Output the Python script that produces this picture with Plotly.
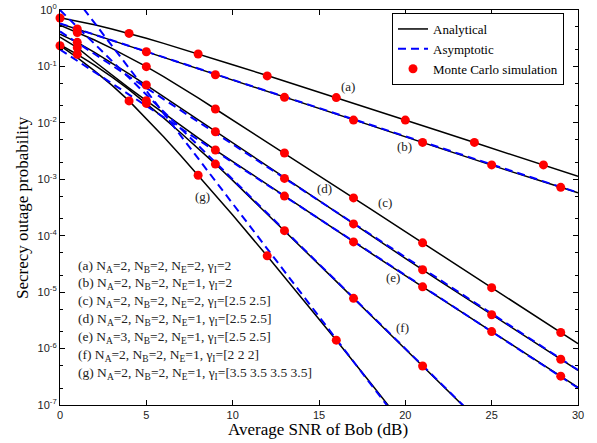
import numpy as np
import plotly.graph_objects as go

# ---------------- data ----------------
snr = [0, 1, 2, 3, 4, 5, 6, 7, 8, 9, 10, 12, 14, 16, 18, 20, 22, 24, 26, 28, 30]

ana_a = [0.731, 0.637, 0.547, 0.462, 0.385, 0.316, 0.256, 0.207, 0.166, 0.134, 0.107,
         0.0689, 0.0440, 0.0280, 0.0177, 0.01125, 0.0071, 4.48e-3, 2.82e-3, 1.78e-3, 1.125e-3]
ana_b = [0.569, 0.460, 0.366, 0.290, 0.230, 0.182, 0.144, 0.114, 0.0902, 0.0713, 0.0566,
         0.0356, 0.0224, 0.0141, 8.91e-3, 5.65e-3, 3.57e-3, 2.24e-3, 1.41e-3, 9.02e-4, 5.75e-4]
ana_c = [0.536, 0.402, 0.294, 0.209, 0.145, 0.0989, 0.0658, 0.0430, 0.0276, 0.0176, 0.0112,
         4.57e-3, 1.845e-3, 7.40e-4, 2.96e-4, 1.183e-4, 4.73e-5, 1.897e-5, 7.60e-6, 3.05e-6, 1.219e-6]
ana_d = [0.372, 0.267, 0.1775, 0.1156, 0.0741, 0.0468, 0.0292, 0.0182, 0.01127, 0.00697, 0.00433,
         1.667e-3, 6.52e-4, 2.58e-4, 1.014e-4, 3.97e-5, 1.574e-5, 6.30e-6, 2.52e-6, 1.016e-6, 4.09e-7]
ana_e = [0.331, 0.215, 0.1222, 0.0706, 0.0414, 0.0247, 0.01479, 0.00893, 0.00541, 0.0033, 0.00206,
         8.05e-4, 3.155e-4, 1.239e-4, 4.91e-5, 1.963e-5, 7.85e-6, 3.15e-6, 1.265e-6, 5.09e-7, 2.05e-7]
ana_f = [0.242, 0.164, 0.1057, 0.0655, 0.0389, 0.0221, 0.01222, 0.00662, 0.00354, 0.00186, 9.55e-4,
         2.45e-4, 6.17e-5, 1.55e-5, 3.89e-6, 9.77e-7, 2.45e-7, 6.17e-8, None, None, None]
ana_g = [0.233, 0.1436, 0.0836, 0.0466, 0.0245, 0.0120, 0.00569, 0.00262, 0.001175, 5.25e-4, 2.32e-4,
         4.37e-5, 7.94e-6, 1.41e-6, 2.43e-7, 4.07e-8, None, None, None, None, None]

# asymptotic (straight lines on this plot): end points
asym_b_x, asym_b = [0, 30], [0.58, 5.8e-4]
asym_d_x, asym_d = [0, 30], [0.417, 4.17e-7]
asym_e_x, asym_e = [0, 30], [0.1995, 2.0e-7]
asym_f_x, asym_f = [0, 24], [1.0, 6.3e-8]
asym_g_x, asym_g = [0, 20], [3.72, 3.7e-8]

# Monte Carlo simulation points
mc_a_x = [0, 4, 8, 12, 16, 20, 24, 28]
mc_a = [0.72, 0.385, 0.166, 0.068, 0.028, 0.0112, 0.0045, 0.0018]
mc_b_x = [1, 5, 9, 13, 17, 21, 25, 29]
mc_b = [0.46, 0.182, 0.0713, 0.0283, 0.0112, 0.0045, 0.0018, 7.2e-4]
mc_c_x = [1, 5, 9, 13, 17, 21, 25, 29]
mc_c = [0.40, 0.099, 0.0176, 2.92e-3, 4.68e-4, 7.48e-5, 1.2e-5, 1.93e-6]
mc_d_x = [1, 5, 9, 13, 17, 21, 25, 29]
mc_d = [0.267, 0.0468, 0.00697, 1.035e-3, 1.62e-4, 2.49e-5, 3.98e-6, 6.46e-7]
mc_e_x = [1, 5, 9, 13, 17, 21, 25, 29]
mc_e = [0.215, 0.0247, 0.0033, 5.04e-4, 7.76e-5, 1.24e-5, 2.0e-6, 3.24e-7]
mc_f_x = [1, 5, 9, 13, 17, 21]
mc_f = [0.164, 0.0221, 0.00186, 1.23e-4, 7.76e-6, 4.9e-7]
mc_g_x = [0, 4, 8, 12, 16]
mc_g = [0.233, 0.0245, 0.00118, 4.4e-5, 1.41e-6]

curve_labels = ["(a)", "(b)", "(c)", "(d)", "(e)", "(f)", "(g)"]
label_x = [16.7, 19.96, 18.8, 15.32, 19.28, 19.83, 8.28]
label_y = [0.0449, 3.77e-3, 3.83e-4, 6.89e-4, 1.79e-5, 2.33e-6, 4.9e-4]

case_lines = [
    "(a) N<sub>A</sub>=2, N<sub>B</sub>=2, N<sub>E</sub>=2, γ<sub>I</sub>=2",
    "(b) N<sub>A</sub>=2, N<sub>B</sub>=2, N<sub>E</sub>=1, γ<sub>I</sub>=2",
    "(c) N<sub>A</sub>=2, N<sub>B</sub>=2, N<sub>E</sub>=2, γ<sub>I</sub>=[2.5 2.5]",
    "(d) N<sub>A</sub>=2, N<sub>B</sub>=2, N<sub>E</sub>=1, γ<sub>I</sub>=[2.5 2.5]",
    "(e) N<sub>A</sub>=3, N<sub>B</sub>=2, N<sub>E</sub>=1, γ<sub>I</sub>=[2.5 2.5]",
    "(f) N<sub>A</sub>=2, N<sub>B</sub>=2, N<sub>E</sub>=1, γ<sub>I</sub>=[2 2 2]",
    "(g) N<sub>A</sub>=2, N<sub>B</sub>=2, N<sub>E</sub>=1, γ<sub>I</sub>=[3.5 3.5 3.5 3.5]",
]

y_tick_vals = [1, 1e-1, 1e-2, 1e-3, 1e-4, 1e-5, 1e-6, 1e-7]
y_tick_text = ["10<sup>0</sup>", "10<sup>-1</sup>", "10<sup>-2</sup>", "10<sup>-3</sup>",
               "10<sup>-4</sup>", "10<sup>-5</sup>", "10<sup>-6</sup>", "10<sup>-7</sup>"]
x_tick_vals = [0, 5, 10, 15, 20, 25, 30]

x_title = "Average SNR of Bob (dB)"
y_title = "Secrecy outage probability"

# ---------------- figure ----------------
SERIF = "Liberation Serif, Times New Roman, serif"
SANS = "Liberation Sans, Arial, sans-serif"
BLACK = "#000000"
BLUE = "#0000ff"
RED = "#ff0000"

W, H = 597, 443
# plot area in window pixels: x 60..578, y 10..405
L, T = 60, 10
R, B = W - 578, H - 405
PW, PH = W - L - R, H - T - B


def px(xw):
    """window x pixel -> paper x"""
    return (xw - L) / PW


def py(yw):
    """window y pixel -> paper y"""
    return (H - B - yw) / PH


fig = go.Figure()

analytical = [ana_a, ana_b, ana_c, ana_d, ana_e, ana_f, ana_g]
for i, ys in enumerate(analytical):
    fig.add_trace(go.Scatter(x=snr, y=ys, mode="lines", line=dict(color=BLACK, width=1.5),
                             name="Analytical", showlegend=(i == 0), legendrank=1,
                             connectgaps=False))

asym = [(asym_b_x, asym_b), (asym_d_x, asym_d), (asym_e_x, asym_e),
        (asym_f_x, asym_f), (asym_g_x, asym_g)]
for i, (xs, ys) in enumerate(asym):
    fig.add_trace(go.Scatter(x=xs, y=ys, mode="lines",
                             line=dict(color=BLUE, width=2, dash="8px,5px"),
                             name="Asymptotic", showlegend=(i == 0), legendrank=2))

mcs = [(mc_a_x, mc_a), (mc_b_x, mc_b), (mc_c_x, mc_c), (mc_d_x, mc_d),
       (mc_e_x, mc_e), (mc_f_x, mc_f), (mc_g_x, mc_g)]
for i, (xs, ys) in enumerate(mcs):
    fig.add_trace(go.Scatter(x=xs, y=ys, mode="markers",
                             marker=dict(color=RED, size=9, line=dict(width=0)),
                             name="Monte Carlo simulation", showlegend=(i == 0), legendrank=3,
                             cliponaxis=False))

annotations = []
for t, lx, ly in zip(curve_labels, label_x, label_y):
    annotations.append(dict(x=lx, y=np.log10(ly), xref="x", yref="y", text=t, showarrow=False,
                            font=dict(family=SERIF, size=13, color="#222222"),
                            xanchor="center", yanchor="middle"))

case_py = [264.7, 282.5, 300.3, 318.1, 335.9, 353.7, 371.5]
for t, yw in zip(case_lines, case_py):
    annotations.append(dict(x=px(76), y=py(yw + 1.5), xref="paper", yref="paper",
                            text=t, showarrow=False, xanchor="left", yanchor="middle",
                            font=dict(family=SERIF, size=13.5, color="#222222")))

# axis titles
annotations.append(dict(x=px(318), y=py(430), xref="paper", yref="paper",
                        text=x_title, showarrow=False, xanchor="center", yanchor="middle",
                        font=dict(family=SERIF, size=17, color=BLACK)))
annotations.append(dict(x=px(22), y=py(208), xref="paper", yref="paper",
                        text=y_title, showarrow=False, xanchor="center", yanchor="middle",
                        textangle=-90, font=dict(family=SERIF, size=17, color=BLACK)))

fig.update_layout(
    width=W, height=H,
    margin=dict(l=L, r=R, t=T, b=B, autoexpand=False),
    paper_bgcolor="white", plot_bgcolor="white",
    annotations=annotations,
    legend=dict(x=px(564), y=py(13), xanchor="right", yanchor="top",
                bgcolor="white", bordercolor=BLACK, borderwidth=1,
                font=dict(family=SERIF, size=13, color=BLACK),
                tracegroupgap=0, itemwidth=30),
    showlegend=True,
)

fig.update_xaxes(range=[0, 30], tickvals=x_tick_vals, ticks="inside", ticklen=5,
                 tickcolor=BLACK, showline=True, linecolor=BLACK, linewidth=1.2,
                 mirror="ticks", showgrid=False, zeroline=False, automargin=False,
                 tickfont=dict(family=SANS, size=11, color="#222222"))

fig.update_yaxes(type="log", range=[-7, 0], tickvals=y_tick_vals, ticktext=y_tick_text,
                 ticks="inside", ticklen=5, tickcolor=BLACK,
                 minor=dict(ticks="inside", ticklen=3, tickcolor=BLACK, showgrid=False),
                 showline=True, linecolor=BLACK, linewidth=1.2, mirror="ticks",
                 showgrid=False, zeroline=False, automargin=False,
                 tickfont=dict(family=SANS, size=11, color="#222222"))

# remove the browser's default 8px page margin so the figure sits at (0, 0)
fig.write_html("out.html", config={"displayModeBar": False},
               post_script="document.body.style.margin='0px';document.body.style.overflow='hidden';")
